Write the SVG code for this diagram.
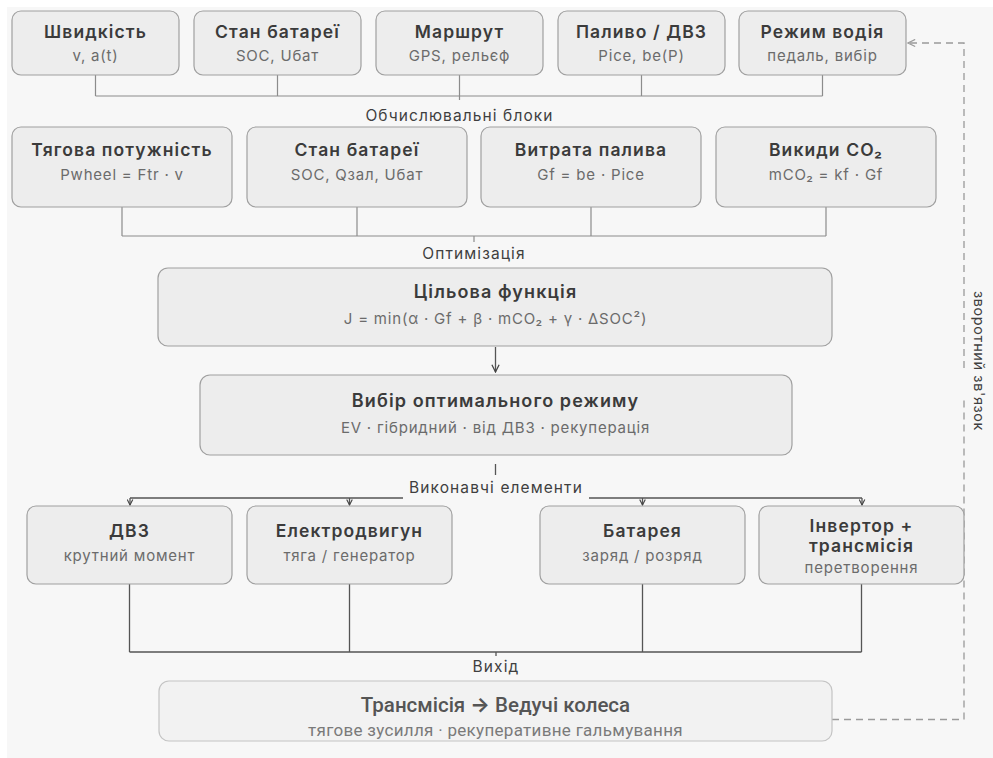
<svg xmlns="http://www.w3.org/2000/svg" width="993" height="758" viewBox="0 0 993 758">
  <defs>
    <style>
      .panel { fill: #f7f7f7; }
      .box { fill: #ededed; stroke: #a0a0a0; stroke-width: 1.2; }
      .box-out { fill: #f2f2f2; stroke: #c4c4c4; stroke-width: 1.2; }
      .t { font-family: Inter, "Noto Sans", "Liberation Sans", sans-serif; text-anchor: middle; }
      .h { font-size: 17.5px; font-weight: 600; fill: #3b3b3b; letter-spacing: 1.1px; }
      .s { font-size: 15px; font-weight: 400; fill: #6b6b6b; letter-spacing: 0.8px; }
      .lbl { font-size: 15.5px; font-weight: 400; fill: #3f3f3f; letter-spacing: 1.1px; }
      .out-h { font-family: Roboto, "Liberation Sans", sans-serif; text-anchor: middle; font-size: 20.5px; font-weight: 500; fill: #555555; }
      .out-s { font-family: Roboto, "Liberation Sans", sans-serif; text-anchor: middle; font-size: 17px; font-weight: 400; fill: #7a7a7a; letter-spacing: 0.3px; }
      .arr { font-family: Inter, "DejaVu Sans", sans-serif; font-weight: 700; }
      .ln { fill: none; stroke: #8c8c8c; stroke-width: 1.2; }
      .ln2 { fill: none; stroke: #555555; stroke-width: 1.3; }
      .dash { fill: none; stroke: #9a9a9a; stroke-width: 1.3; stroke-dasharray: 7 5; }
    </style>
    <marker id="chev" viewBox="0 0 10 10" refX="9" refY="5" markerWidth="9" markerHeight="9" orient="auto" markerUnits="userSpaceOnUse">
      <path d="M1,1 L9,5 L1,9" fill="none" stroke="#444" stroke-width="1.4"/>
    </marker>
    <marker id="chevs" viewBox="0 0 10 10" refX="9" refY="5" markerWidth="7" markerHeight="7" orient="auto" markerUnits="userSpaceOnUse">
      <path d="M1,1 L9,5 L1,9" fill="none" stroke="#444" stroke-width="1.6"/>
    </marker>
    <marker id="chevd" viewBox="0 0 10 10" refX="9" refY="5" markerWidth="9" markerHeight="9" orient="auto" markerUnits="userSpaceOnUse">
      <path d="M1,1 L9,5 L1,9" fill="none" stroke="#9a9a9a" stroke-width="1.3"/>
    </marker>
  </defs>

  <rect x="0" y="0" width="993" height="758" fill="#ffffff"/>
  <rect class="panel" x="7" y="7" width="986" height="751"/>

  <!-- connectors -->
  <g id="connectors">
    <!-- inputs to computation blocks -->
    <path class="ln" d="M95.5,75 V96 M277.5,75 V96 M459.5,75 V96 M641.5,75 V96 M822.5,75 V96 M95.5,96 H822.5 M459.5,96 V100"/>
    <!-- computation blocks to optimisation -->
    <path class="ln" d="M122,207 V236 M357,207 V236 M591,207 V236 M826,207 V236 M122,236 H826 M474,236 V242"/>
    <!-- objective to mode selection -->
    <path class="ln2" d="M495.5,347 V372" marker-end="url(#chev)"/>
    <!-- mode selection to actuators -->
    <path class="ln2" d="M495.5,464 V475"/>
    <path class="ln2" d="M130,498 H403 M589,498 H862"/>
    <path class="ln2" d="M130,498 V505" marker-end="url(#chevs)"/>
    <path class="ln2" d="M349.5,498 V505" marker-end="url(#chevs)"/>
    <path class="ln2" d="M642.5,498 V505" marker-end="url(#chevs)"/>
    <path class="ln2" d="M862,498 V505" marker-end="url(#chevs)"/>
    <!-- actuators to output -->
    <path class="ln2" d="M129.5,584 V652 M349.5,584 V652 M642.5,584 V652 M861.5,584 V652 M129.5,652 H861.5 M496,652 V656"/>
    <!-- feedback loop -->
    <path class="dash" d="M832,719.5 H964 V397"/>
    <path class="dash" d="M964,368 V43 H908" marker-end="url(#chevd)"/>
    <text class="t" x="0" y="0" transform="translate(974,361) rotate(90)" style="font-size:14.5px;fill:#3f3f3f;letter-spacing:0.6px">зворотний зв'язок</text>
  </g>

  <!-- group labels -->
  <text class="t lbl" x="459.5" y="120.5">Обчислювальні блоки</text>
  <text class="t lbl" x="474" y="259">Оптимізація</text>
  <text class="t lbl" x="496" y="493">Виконавчі елементи</text>
  <text class="t lbl" x="496" y="672">Вихід</text>

  <!-- input row -->
  <g id="in-speed">
    <rect class="box" x="12" y="11" width="167" height="64" rx="9"/>
    <text class="t h" x="95.5" y="37.5">Швидкість</text>
    <text class="t s" x="95.5" y="61">v, a(t)</text>
  </g>
  <g id="in-battery">
    <rect class="box" x="194" y="11" width="167" height="64" rx="9"/>
    <text class="t h" x="277.5" y="37.5">Стан батареї</text>
    <text class="t s" x="277.5" y="61">SOC, Uбат</text>
  </g>
  <g id="in-route">
    <rect class="box" x="376" y="11" width="167" height="64" rx="9"/>
    <text class="t h" x="459.5" y="37.5">Маршрут</text>
    <text class="t s" x="459.5" y="61">GPS, рельєф</text>
  </g>
  <g id="in-fuel">
    <rect class="box" x="558" y="11" width="167" height="64" rx="9"/>
    <text class="t h" x="641.5" y="37.5">Паливо / ДВЗ</text>
    <text class="t s" x="641.5" y="61">Pice, be(P)</text>
  </g>
  <g id="in-driver">
    <rect class="box" x="739" y="11" width="167" height="64" rx="9"/>
    <text class="t h" x="822.5" y="37.5">Режим водія</text>
    <text class="t s" x="822.5" y="61">педаль, вибір</text>
  </g>

  <!-- computation row -->
  <g id="calc-power">
    <rect class="box" x="12" y="127" width="220" height="80" rx="9"/>
    <text class="t h" x="122" y="156">Тягова потужність</text>
    <text class="t s" x="122" y="180">Pwheel = Ftr · v</text>
  </g>
  <g id="calc-battery">
    <rect class="box" x="247" y="127" width="220" height="80" rx="9"/>
    <text class="t h" x="357" y="156">Стан батареї</text>
    <text class="t s" x="357" y="180">SOC, Qзал, Uбат</text>
  </g>
  <g id="calc-fuel">
    <rect class="box" x="481" y="127" width="220" height="80" rx="9"/>
    <text class="t h" x="591" y="156">Витрата палива</text>
    <text class="t s" x="591" y="180">Gf = be · Pice</text>
  </g>
  <g id="calc-co2">
    <rect class="box" x="716" y="127" width="220" height="80" rx="9"/>
    <text class="t h" x="826" y="156">Викиди CO₂</text>
    <text class="t s" x="826" y="180">mCO₂ = kf · Gf</text>
  </g>

  <!-- optimisation -->
  <g id="objective">
    <rect class="box" x="158" y="268" width="674" height="78" rx="10"/>
    <text class="t h" x="495.5" y="298" style="font-size:18px">Цільова функція</text>
    <text class="t s" x="495.5" y="324">J = min(α · Gf + β · mCO₂ + γ · ΔSOC²)</text>
  </g>
  <g id="mode-select">
    <rect class="box" x="200" y="375" width="592" height="80" rx="10"/>
    <text class="t h" x="495.5" y="407" style="font-size:18px">Вибір оптимального режиму</text>
    <text class="t s" x="495.5" y="433">EV · гібридний · від ДВЗ · рекуперація</text>
  </g>

  <!-- actuators -->
  <g id="act-ice">
    <rect class="box" x="27" y="506" width="205" height="78" rx="9"/>
    <text class="t h" x="129.5" y="537">ДВЗ</text>
    <text class="t s" x="129.5" y="561">крутний момент</text>
  </g>
  <g id="act-motor">
    <rect class="box" x="247" y="506" width="205" height="78" rx="9"/>
    <text class="t h" x="349.5" y="537">Електродвигун</text>
    <text class="t s" x="349.5" y="561">тяга / генератор</text>
  </g>
  <g id="act-battery">
    <rect class="box" x="540" y="506" width="205" height="78" rx="9"/>
    <text class="t h" x="642.5" y="537">Батарея</text>
    <text class="t s" x="642.5" y="561">заряд / розряд</text>
  </g>
  <g id="act-inverter">
    <rect class="box" x="759" y="506" width="205" height="78" rx="9"/>
    <text class="t h" x="861.5" y="532">Інвертор +</text>
    <text class="t h" x="861.5" y="552">трансмісія</text>
    <text class="t s" x="861.5" y="573">перетворення</text>
  </g>

  <!-- output -->
  <g id="output">
    <rect class="box-out" x="159" y="681" width="673" height="60" rx="10"/>
    <text class="out-h" x="495.5" y="712">Трансмісія <tspan class="arr">→</tspan> Ведучі колеса</text>
    <text class="out-s" x="495.5" y="736">тягове зусилля · рекуперативне гальмування</text>
  </g>
</svg>
